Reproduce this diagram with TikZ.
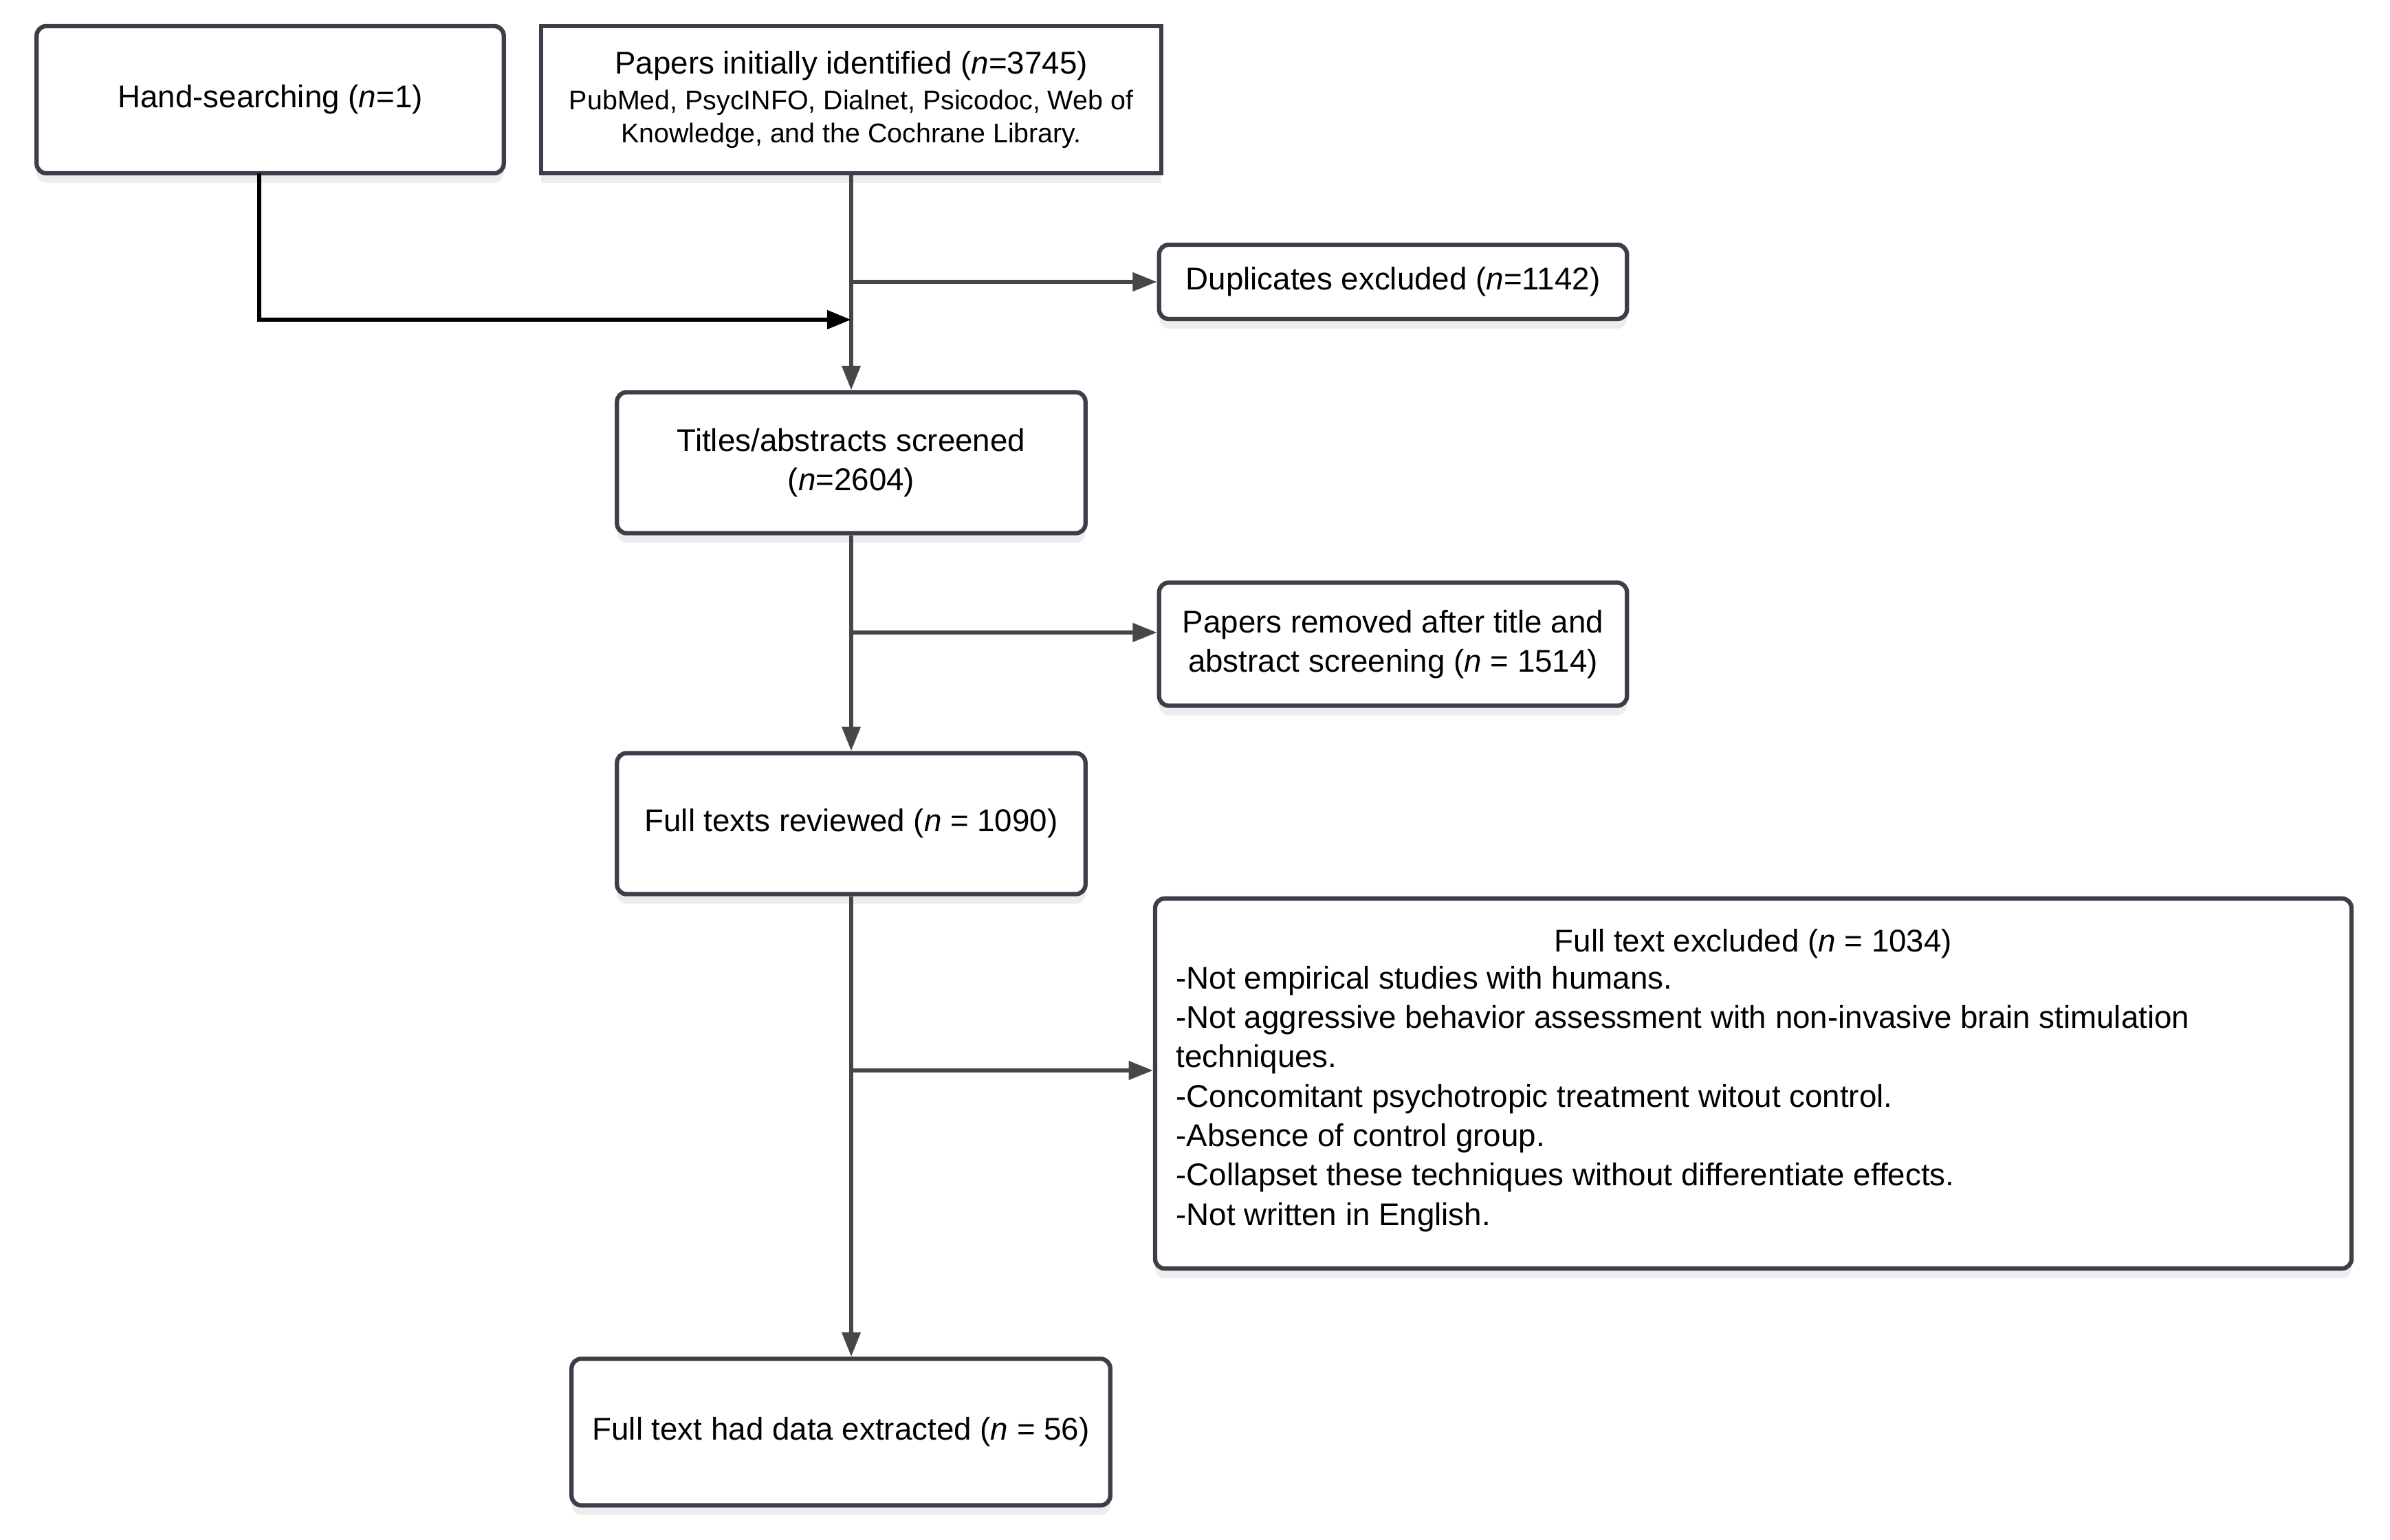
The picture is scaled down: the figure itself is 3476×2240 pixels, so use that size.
\documentclass[tikz,border=0pt]{standalone}
\usepackage{fontspec}
\setmainfont{Liberation Sans}
\usetikzlibrary{arrows.meta,shadows}
\definecolor{bordc}{HTML}{3B4048}
\definecolor{linec}{HTML}{474747}
\tikzset{
  boxbase/.style={draw=bordc, line width=1.8pt, fill=white, align=center, inner sep=0pt,
    drop shadow={shadow xshift=0pt, shadow yshift=-4pt, opacity=0.07, fill=black}},
  rbox/.style={boxbase, rounded corners=4pt},
  sbox/.style={boxbase},
  garrow/.style={draw=linec, line width=1.6pt, -{Triangle[length=10pt,width=7.5pt]}},
  barrow/.style={draw=black, line width=1.9pt, -{Triangle[length=10pt,width=7.5pt]}},
  txt/.style={inner sep=0pt, anchor=base west},
}
\begin{document}
\begin{tikzpicture}[x=0.01cm,y=-0.01cm]
\fontsize{13}{16.2}\selectfont
\useasboundingbox (0,0) rectangle (3476,2240);
% boxes
\node[rbox, minimum width=6.79cm, minimum height=2.14cm] (hand) at (393,145) {Hand-searching (\textit{n}=1)};
\node[sbox, minimum width=9.02cm, minimum height=2.14cm] (papers) at (1238,145)
  {Papers initially identified (\textit{n}=3745)\\[-1.4pt]{\fontsize{11.2}{13.4}\selectfont PubMed, PsycINFO, Dialnet, Psicodoc, Web of}\\[-2.8pt]{\fontsize{11.2}{13.4}\selectfont Knowledge, and the Cochrane Library.}};
\node[rbox, minimum width=6.80cm, minimum height=1.08cm] (dup) at (2026,410) {Duplicates excluded (\textit{n}=1142)};
\node[rbox, minimum width=6.81cm, minimum height=2.05cm] (titles) at (1238,673) {Titles/abstracts screened\\(\textit{n}=2604)};
\node[rbox, minimum width=6.80cm, minimum height=1.79cm] (removed) at (2026,937) {Papers removed after title and\\abstract screening (\textit{n} = 1514)};
\node[rbox, minimum width=6.81cm, minimum height=2.05cm] (full) at (1238,1198) {Full texts reviewed (\textit{n} = 1090)};
\node[rbox, minimum width=17.39cm, minimum height=5.38cm] (excl) at (2550,1576) {};
\node[rbox, minimum width=7.83cm, minimum height=2.13cm] (final) at (1223,2083) {Full text had data extracted (\textit{n} = 56)};
% excluded box text
\node[inner sep=0pt, anchor=base] (exttl) at (2550,1384) {Full text excluded (\textit{n} = 1034)};
\node[txt] (ex1) at (1710,1438) {-Not empirical studies with humans.};
\node[txt] (ex2) at (1710,1495.3) {-Not aggressive behavior assessment with non-invasive brain stimulation};
\node[txt] (ex3) at (1710,1552.6) {techniques.};
\node[txt] (ex4) at (1710,1610) {-Concomitant psychotropic treatment witout control.};
\node[txt] (ex5) at (1710,1667.3) {-Absence of control group.};
\node[txt] (ex6) at (1710,1724.6) {-Collapset these techniques without differentiate effects.};
\node[txt] (ex7) at (1710,1782) {-Not written in English.};
% connectors
\coordinate (h1) at (377,252);
\coordinate (b1) at (1238,410);
\coordinate (m1) at (1238,465);
\coordinate (b2) at (1238,920);
\coordinate (b3) at (1238,1557);
\draw[garrow] (papers.south) -- (titles.north);
\draw[garrow] (b1) -- (dup.west);
\draw[barrow] (h1) |- (m1);
\draw[garrow] (titles.south) -- (full.north);
\draw[garrow] (b2) -- (b2 -| removed.west);
\draw[garrow] (full.south) -- (full.south |- final.north);
\draw[garrow] (b3) -- (b3 -| excl.west);
\end{tikzpicture}
\end{document}
